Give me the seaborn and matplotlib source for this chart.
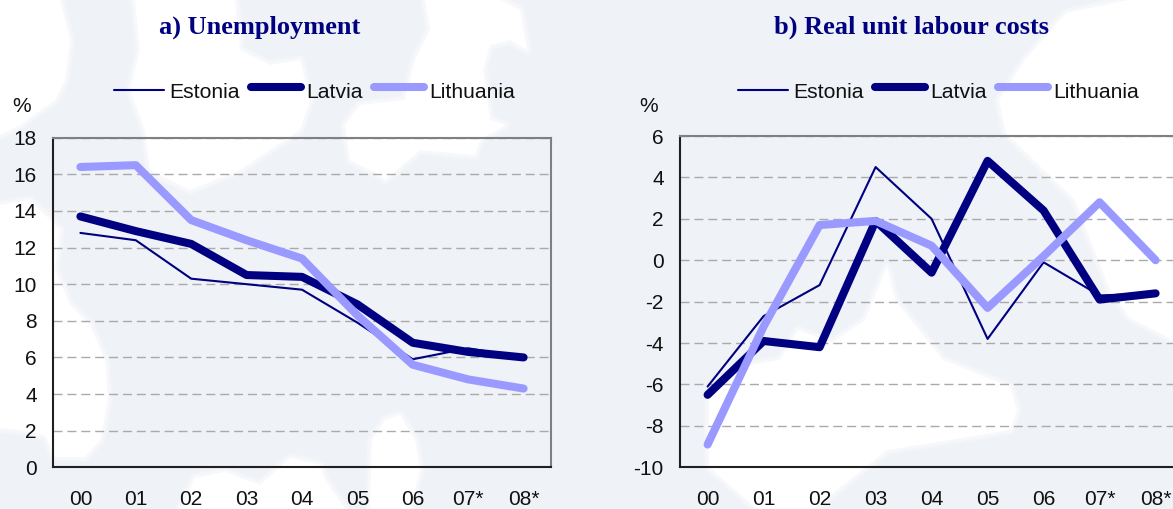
import matplotlib
matplotlib.use("Agg")
import matplotlib.pyplot as plt
import pandas as pd
import seaborn as sns
from matplotlib.patches import Polygon

W, H = 1173, 509

years = ["00", "01", "02", "03", "04", "05", "06", "07*", "08*"]
countries = ["Estonia", "Latvia", "Lithuania"]

unemp_estonia = [12.8, 12.4, 10.3, 10.0, 9.7, 7.9, 5.9, 6.5, 6.0]
unemp_latvia = [13.7, 12.9, 12.2, 10.5, 10.4, 8.9, 6.8, 6.3, 6.0]
unemp_lithuania = [16.4, 16.5, 13.5, 12.4, 11.4, 8.3, 5.6, 4.8, 4.3]

rulc_estonia = [-6.1, -2.7, -1.2, 4.5, 2.0, -3.8, -0.1, -1.7, -1.6]
rulc_latvia = [-6.5, -3.9, -4.2, 1.9, -0.6, 4.8, 2.4, -1.9, -1.6]
rulc_lithuania = [-8.9, -3.2, 1.7, 1.9, 0.7, -2.3, 0.2, 2.8, 0.0]

NAVY = "#000080"
LILAC = "#9999FF"
PALE = "#EFF2F7"

# rough shapes of the white sea in the map behind the charts, in pixels
sea_shapes = [
    [(0, 0), (60, 0), (70, 40), (65, 80), (55, 100), (20, 125), (0, 135)],
    [(135, 0), (235, 0), (240, 50), (270, 65), (300, 60), (310, 100), (300, 130), (270, 150), (240, 170), (190, 190), (150, 170), (145, 130), (130, 90), (140, 50)],
    [(0, 205), (30, 200), (60, 230), (55, 270), (70, 305), (90, 325), (105, 360), (108, 400), (100, 440), (85, 457), (55, 457), (45, 435), (20, 430), (0, 428)],
    [(180, 509), (195, 478), (225, 472), (260, 485), (290, 458), (320, 465), (325, 480), (345, 509)],
    [(370, 509), (372, 440), (385, 420), (400, 415), (415, 440), (420, 470), (410, 509)],
    [(425, 0), (500, 0), (520, 10), (527, 50), (510, 40), (490, 45), (483, 70), (490, 120), (505, 125), (480, 140), (475, 155), (420, 150), (385, 180), (380, 175), (350, 160), (345, 125), (360, 105), (405, 100), (415, 60), (430, 30)],
    [(1129, 0), (1173, 0), (1173, 340), (1129, 317), (1110, 290), (1075, 200), (1006, 133), (999, 100), (1025, 60), (1066, 13)],
    [(709, 400), (739, 367), (780, 360), (798, 330), (832, 343), (865, 320), (887, 267), (895, 300), (943, 360), (1010, 387), (1017, 410), (1010, 430), (887, 450), (813, 509), (757, 509), (709, 467)],
]


def draw_panel(ax, values, title, ylim, step, legend_x, title_x):
    df = pd.DataFrame({"year": years, **dict(zip(countries, values))})
    long_df = df.melt(id_vars="year", var_name="country", value_name="value")
    sns.lineplot(data=long_df, x="year", y="value", hue="country", size="country",
                 hue_order=countries, size_order=countries,
                 palette=[NAVY, NAVY, LILAC], sizes=[1.5, 5.8, 5.8],
                 sort=False, ax=ax, legend=False)
    for line in ax.get_lines():
        line.set_solid_capstyle("round")

    ax.set_xlim(-0.5, 8.5)
    ax.set_ylim(*ylim)
    ax.set_yticks(range(ylim[0], ylim[1] + 1, step))
    ax.set_xticks([i - 0.5 for i in range(10)])
    ax.set_xticklabels([])
    ax.set_xticks(range(9), labels=years, minor=True)
    ax.tick_params(axis="x", which="major", length=5, width=1, color="black", direction="out")
    ax.tick_params(axis="x", which="minor", length=0, pad=16, labelsize=15)
    ax.tick_params(axis="y", length=5.5, width=1, color="black", pad=6, labelsize=15)
    ax.set_xlabel("")
    ax.set_ylabel("")
    ax.patch.set_alpha(0)
    ax.grid(axis="y", color="#AAAAAA", linestyle=(0, (6.5, 3.5)), linewidth=1)
    ax.grid(axis="x", visible=False)
    ax.set_axisbelow(True)
    for side, spine in ax.spines.items():
        spine.set_visible(True)
        spine.set_color("#808080" if side in ("top", "right") else "#202020")
        spine.set_linewidth(1.5)

    handles = [
        plt.Line2D([], [], color=NAVY, lw=1.5),
        plt.Line2D([], [], color=NAVY, lw=5.8, solid_capstyle="round"),
        plt.Line2D([], [], color=LILAC, lw=5.8, solid_capstyle="round"),
    ]
    leg = fig.legend(handles, countries, loc="center left", ncol=3, frameon=False,
                     bbox_to_anchor=(legend_x / W, 1 - 92 / H), fontsize=15.2,
                     handlelength=2.37, handletextpad=0.24, columnspacing=0.55,
                     borderpad=0, borderaxespad=0)
    # thick legend keys sit a little higher than the thin one
    for handle in leg.legend_handles[1:]:
        handle.set_ydata([y + 2 for y in handle.get_ydata()])
    fig.text(title_x / W, 1 - 27 / H, title, ha="center", va="center", color=NAVY,
             family="Liberation Serif", weight="bold", fontsize=19)
    fig.text((ax.get_position().x0 * W - 31) / W, 1 - 107 / H, "%", ha="center", va="center", fontsize=15)


sns.set_theme(style="white")
plt.rcParams["font.family"] = ["Liberation Sans", "DejaVu Sans"]
plt.rcParams["axes.unicode_minus"] = False
plt.rcParams["text.color"] = "#111111"
plt.rcParams["xtick.labelcolor"] = "#111111"
plt.rcParams["ytick.labelcolor"] = "#111111"

fig = plt.figure(figsize=(W / 100, H / 100), dpi=100, facecolor=PALE)

bg = fig.add_axes([0, 0, 1, 1], zorder=-1)
bg.set_xlim(0, W)
bg.set_ylim(H, 0)
bg.axis("off")
for shape in sea_shapes:
    # a few wider, faint outlines so the coast does not look cut out
    for lw, alpha in [(7, 0.25), (4, 0.4), (0, 1)]:
        bg.add_patch(Polygon(shape, closed=True, facecolor="white", edgecolor="white",
                             linewidth=lw, alpha=alpha, joinstyle="round"))

ax_a = fig.add_axes([52.7 / W, 1 - 467.3 / H, 498.6 / W, 329.6 / H])
# the right panel runs past the edge of the picture, as in the original
ax_b = fig.add_axes([679.6 / W, 1 - 467.3 / H, 504 / W, 331.3 / H])

draw_panel(ax_a, [unemp_estonia, unemp_latvia, unemp_lithuania], "a) Unemployment", (0, 18), 2, 114, 260)
draw_panel(ax_b, [rulc_estonia, rulc_latvia, rulc_lithuania], "b) Real unit labour costs", (-10, 6), 2, 738, 912)

fig.savefig("out.png", dpi=100, facecolor=fig.get_facecolor())
